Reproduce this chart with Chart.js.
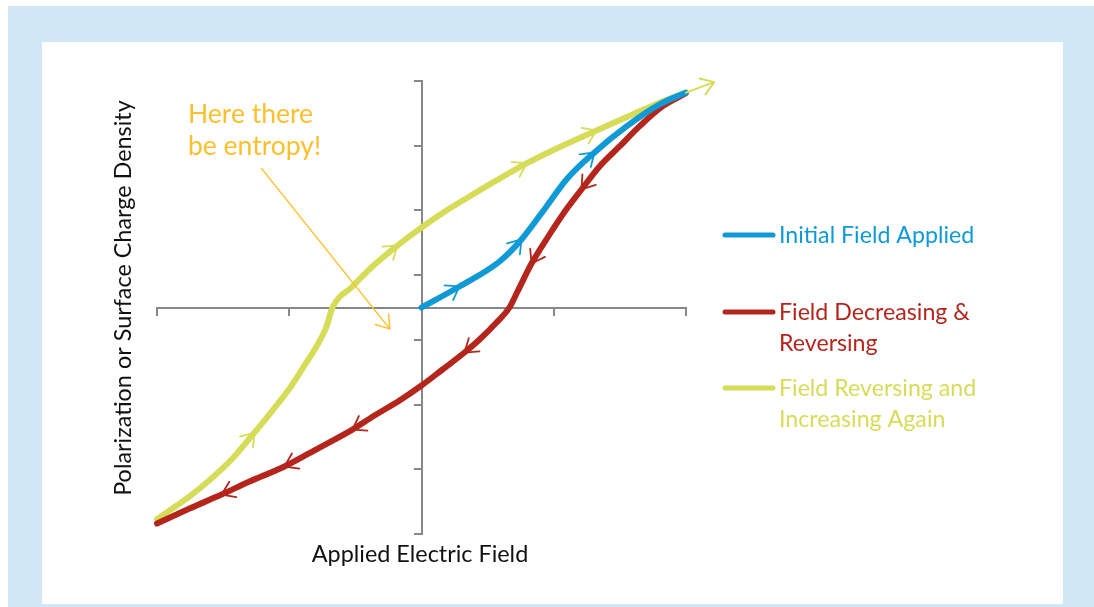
<!DOCTYPE html>
<html>
<head>
<meta charset="utf-8">
<script src="https://cdn.jsdelivr.net/npm/chart.js@4.4.1/dist/chart.umd.min.js"></script>
<style>
  html, body { margin: 0; padding: 0; background: #fff; }
  #frame { position: absolute; left: 8px; top: 6px; width: 1086px; height: 601px; background: #d1e7f5; }
  #panel { position: absolute; left: 42px; top: 42px; width: 1021px; height: 562px; background: #fff; }
  #chart { position: absolute; left: 0; top: 0; }
</style>
</head>
<body>
<div id="frame"></div>
<div id="panel"></div>
<canvas id="chart" width="1094" height="607"></canvas>
<script>
// Curve data (field, polarization)
const initialField = [0, 0.287, 0.590, 0.756, 0.945, 1.096, 1.308, 1.550, 1.800, 1.997];
const initialPol   = [0, 0.325, 0.711, 1.051, 1.561, 1.978, 2.396, 2.798, 3.138, 3.320];
const initialArrows = [1, 3, 6];

const decreasingField = [1.996, 1.822, 1.648, 1.497, 1.346, 1.210, 1.089, 0.968, 0.832, 0.726, 0.665, 0.567, 0.439, 0.325, 0.159, 0, -0.166, -0.355, -0.522, -0.771, -1.036, -1.301, -1.512, -1.754, -2.0];
const decreasingPol   = [3.308, 3.107, 2.798, 2.488, 2.179, 1.824, 1.499, 1.128, 0.680, 0.247, 0, -0.232, -0.495, -0.696, -0.958, -1.206, -1.437, -1.669, -1.886, -2.164, -2.457, -2.689, -2.890, -3.107, -3.338];
const decreasingArrows = [5, 8, 13, 18, 20, 22];

const increasingField = [-2.0, -1.754, -1.580, -1.429, -1.263, -1.127, -0.998, -0.900, -0.794, -0.718, -0.673, -0.522, -0.371, -0.181, 0, 0.189, 0.363, 0.567, 0.794, 1.021, 1.323, 1.595, 1.822, 2.0];
const increasingPol   = [-3.27, -2.92, -2.627, -2.334, -1.932, -1.592, -1.252, -0.943, -0.603, -0.294, 0, 0.325, 0.634, 0.958, 1.236, 1.499, 1.716, 1.963, 2.226, 2.457, 2.736, 2.983, 3.184, 3.32];
const increasingArrows = [4, 13, 18, 20];

// Axis ticks
const xTicks = [-2, -1, 0, 1, 2];
const yTicks = [-3.5, -2.5, -1.5, -0.5, 0.5, 1.5, 2.5, 3.5];

// Annotation arrow (field, polarization) start and end
const noteArrowX = [-1.21, -0.24];
const noteArrowY = [2.15, -0.33];
const noteLines = ['Here there', 'be entropy!'];

const seriesNames = ['Initial Field Applied', 'Field Decreasing & Reversing', 'Field Reversing and Increasing Again'];
const legendLines = [['Initial Field Applied'], ['Field Decreasing &', 'Reversing'], ['Field Reversing and', 'Increasing Again']];

const BLUE = '#0f9ad6';
const RED = '#b4261c';
const YELLOW = '#d7dc58';
const ORANGE = '#fcc02e';
const AXIS = '#878787';
const FONT = 'Lato, "Open Sans", sans-serif';

function toPoints(xs, ys) {
    return xs.map((x, i) => ({ x: x, y: ys[i] }));
}

function chevron(ctx, x, y, ang, len, spread) {
    ctx.beginPath();
    ctx.moveTo(x + len * Math.cos(ang + Math.PI - spread), y + len * Math.sin(ang + Math.PI - spread));
    ctx.lineTo(x, y);
    ctx.lineTo(x + len * Math.cos(ang + Math.PI + spread), y + len * Math.sin(ang + Math.PI + spread));
    ctx.stroke();
}

const arrowSets = [initialArrows, decreasingArrows, increasingArrows];

const decorPlugin = {
    id: 'decor',
    afterDatasetsDraw(chart) {
        const ctx = chart.ctx;
        const xs = chart.scales.x, ys = chart.scales.y;
        ctx.save();
        ctx.lineCap = 'round';
        ctx.lineJoin = 'round';

        // direction arrows on the curves
        chart.data.datasets.forEach((ds, di) => {
            const pts = chart.getDatasetMeta(di).data;
            ctx.strokeStyle = ds.borderColor;
            ctx.lineWidth = 1.8;
            arrowSets[di].forEach(k => {
                const a = pts[Math.max(k - 1, 0)], b = pts[Math.min(k + 1, pts.length - 1)];
                const ang = Math.atan2(b.y - a.y, b.x - a.x);
                chevron(ctx, pts[k].x, pts[k].y, ang, 15, 0.6);
            });
        });

        // yellow curve continues past the last point
        const ym = chart.getDatasetMeta(2).data;
        const p1 = ym[ym.length - 2], p2 = ym[ym.length - 1];
        const ang = Math.atan2(p2.y - p1.y, p2.x - p1.x);
        const ex = p2.x + 30 * Math.cos(ang), ey = p2.y + 30 * Math.sin(ang);
        ctx.strokeStyle = YELLOW;
        ctx.lineWidth = 2;
        ctx.beginPath();
        ctx.moveTo(p2.x, p2.y);
        ctx.lineTo(ex, ey);
        ctx.stroke();
        chevron(ctx, ex, ey, ang, 15, 0.6);

        // annotation
        const ax0 = xs.getPixelForValue(noteArrowX[0]), ay0 = ys.getPixelForValue(noteArrowY[0]);
        const ax1 = xs.getPixelForValue(noteArrowX[1]), ay1 = ys.getPixelForValue(noteArrowY[1]);
        ctx.strokeStyle = ORANGE;
        ctx.lineWidth = 1.5;
        ctx.beginPath();
        ctx.moveTo(ax0, ay0);
        ctx.lineTo(ax1, ay1);
        ctx.stroke();
        chevron(ctx, ax1, ay1, Math.atan2(ay1 - ay0, ax1 - ax0), 15, 0.6);

        ctx.fillStyle = ORANGE;
        ctx.font = '26.5px ' + FONT;
        ctx.textBaseline = 'alphabetic';
        ctx.textAlign = 'left';
        noteLines.forEach((t, i) => ctx.fillText(t, 188, 123 + i * 32));

        // axis titles
        ctx.fillStyle = '#111';
        ctx.font = '23.4px ' + FONT;
        ctx.textAlign = 'center';
        ctx.fillText('Applied Electric Field', 420, 562);
        ctx.save();
        ctx.translate(131, 298);
        ctx.rotate(-Math.PI / 2);
        ctx.fillText('Polarization or Surface Charge Density', 0, 0);
        ctx.restore();

        // legend
        const legendY = [235, 312, 388];
        ctx.textAlign = 'left';
        ctx.font = '23.2px ' + FONT;
        chart.data.datasets.forEach((ds, di) => {
            ctx.strokeStyle = ds.borderColor;
            ctx.lineWidth = 5;
            ctx.beginPath();
            ctx.moveTo(725, legendY[di]);
            ctx.lineTo(773, legendY[di]);
            ctx.stroke();
            ctx.fillStyle = ds.borderColor;
            legendLines[di].forEach((t, li) => ctx.fillText(t, 779, legendY[di] + 8 + li * 31));
        });
        ctx.restore();
    }
};

const lineStyle = { showLine: true, pointRadius: 0, borderWidth: 6, cubicInterpolationMode: 'monotone', borderCapStyle: 'round', borderJoinStyle: 'round', clip: false };

new Chart(document.getElementById('chart'), {
    type: 'scatter',
    data: {
        datasets: [
            Object.assign({ label: seriesNames[0], data: toPoints(initialField, initialPol), borderColor: BLUE, backgroundColor: BLUE }, lineStyle),
            Object.assign({ label: seriesNames[1], data: toPoints(decreasingField, decreasingPol), borderColor: RED, backgroundColor: RED }, lineStyle),
            Object.assign({ label: seriesNames[2], data: toPoints(increasingField, increasingPol), borderColor: YELLOW, backgroundColor: YELLOW }, lineStyle)
        ]
    },
    options: {
        responsive: false,
        animation: false,
        layout: { padding: { left: 157, right: 1094 - 686, top: 81, bottom: 607 - 534 } },
        plugins: { legend: { display: false }, tooltip: { enabled: false } },
        scales: {
            x: {
                type: 'linear',
                min: -2, max: 2,
                position: { y: 0 },
                afterBuildTicks: s => { s.ticks = xTicks.map(v => ({ value: v })); },
                afterFit: s => { s.height = 0; },
                ticks: { display: false },
                grid: { drawOnChartArea: false, drawTicks: true, tickLength: 7, color: AXIS, lineWidth: 2 },
                border: { display: true, color: AXIS, width: 2 }
            },
            y: {
                type: 'linear',
                min: -3.5, max: 3.5,
                position: { x: 0 },
                afterBuildTicks: s => { s.ticks = yTicks.map(v => ({ value: v })); },
                afterFit: s => { s.width = 0; },
                ticks: { display: false },
                grid: { drawOnChartArea: false, drawTicks: true, tickLength: 7, color: AXIS, lineWidth: 2 },
                border: { display: true, color: AXIS, width: 2 }
            }
        }
    },
    plugins: [decorPlugin]
});
</script>
</body>
</html>
